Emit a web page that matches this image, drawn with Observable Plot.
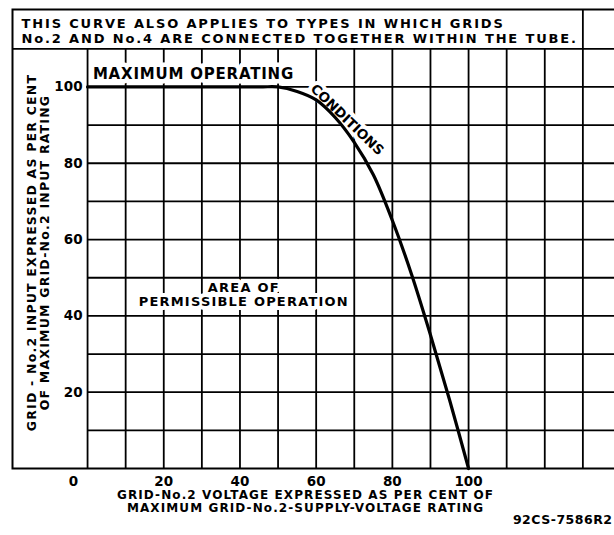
<!DOCTYPE html>
<html><head><meta charset="utf-8">
<script src="https://cdn.jsdelivr.net/npm/d3@7"></script>
<script src="https://cdn.jsdelivr.net/npm/@observablehq/plot@0.6"></script>
<style>
html,body{margin:0;padding:0;background:#fff;}
</style></head>
<body><div id="chart"></div>
<script>
// ---- data ----
const voltage = [0, 45, 50, 55, 60, 65, 70, 75, 80, 85, 90, 95, 100];
const input   = [100, 100, 100, 98.8, 96.6, 92, 85.5, 77, 65, 51, 35, 18, 0];
const xGrid = [0, 10, 20, 30, 40, 50, 60, 70, 80, 90, 100, 110, 120, 130];
const yGrid = [10, 20, 30, 40, 50, 60, 70, 80, 90, 100, 110];
const xTicks = [0, 20, 40, 60, 80, 100];
const yTicks = [20, 40, 60, 80, 100];
const titleLines = ["THIS CURVE ALSO APPLIES TO TYPES IN WHICH GRIDS", "No.2 AND No.4 ARE CONNECTED TOGETHER WITHIN THE TUBE."];
const yTitleLines = ["GRID - No.2 INPUT EXPRESSED AS PER CENT", "OF MAXIMUM GRID-No.2 INPUT RATING"];
const xTitleLines = ["GRID-No.2 VOLTAGE EXPRESSED AS PER CENT OF", "MAXIMUM GRID-No.2-SUPPLY-VOLTAGE RATING"];
const figureCode = "92CS-7586R2";
const limitLabel = ["MAXIMUM OPERATING", "CONDITIONS"];
const areaLabel = ["AREA OF", "PERMISSIBLE OPERATION"];

// ---- layout constants ----
const X_MIN = -19.7, X_MAX = 138.3, Y_MAX = 120.3;
const INK = "#000";
const GRID_W = 1.8;

const curve = voltage.map((v, i) => ({v, p: input[i]}));

const plot = Plot.plot({
  width: 614, height: 535,
  marginLeft: 12, marginRight: 0, marginTop: 9, marginBottom: 67,
  x: {domain: [X_MIN, X_MAX], axis: null},
  y: {domain: [0, Y_MAX], axis: null},
  style: {fontFamily: "DejaVu Sans", color: INK, background: "#fff"},
  marks: [
    Plot.ruleY(yGrid.filter(d => d < 110), {y: d => d, x1: 0, x2: X_MAX, stroke: INK, strokeWidth: GRID_W}),
    Plot.ruleY(yGrid.filter(d => d === 110), {y: d => d, x1: X_MIN, x2: X_MAX, stroke: INK, strokeWidth: GRID_W}),
    Plot.ruleX(xGrid.filter(d => d < 130), {x: d => d, y1: 0, y2: 110, stroke: INK, strokeWidth: GRID_W}),
    Plot.ruleX(xGrid.filter(d => d === 130), {x: d => d, y1: 0, y2: Y_MAX, stroke: INK, strokeWidth: GRID_W}),
    Plot.frame({stroke: INK, strokeWidth: 2, insetRight: -4}),
    // title inside the top box
    Plot.text([titleLines.join("\n")], {frameAnchor: "top-left", dx: 9, dy: 21.5, textAnchor: "start", lineAnchor: "middle",
      fontSize: 13, lineHeight: 1.15, fontWeight: "bold", fill: INK, ariaDescription: "title"}),
    // labels on the chart, with white halo that breaks the grid
    Plot.text([limitLabel[0]], {x: 27.8, y: 103.4, fontSize: 15, fontWeight: "bold", fill: INK, stroke: "#fff", strokeWidth: 9, ariaDescription: "maxop"}),
    Plot.text([limitLabel[1]], {x: 68.1, y: 91.4, rotate: 44, fontSize: 13.5, fontWeight: "bold", fill: INK, stroke: "#fff", strokeWidth: 8, ariaDescription: "cond"}),
    Plot.text([areaLabel.join("\n")], {x: 41, y: 45.6, fontSize: 13, lineHeight: 1.12, fontWeight: "bold", fill: INK, stroke: "#fff", strokeWidth: 8, ariaDescription: "area"}),
    // the rating curve
    Plot.line(curve, {x: "v", y: "p", curve: "catmull-rom", stroke: INK, strokeWidth: 3.2}),
    // y tick labels
    Plot.text(yTicks, {x: 0, y: d => d, text: d => String(d), dx: -5, textAnchor: "end", fontSize: 13.5, fontWeight: "bold", fill: INK}),
    // x tick labels
    Plot.text(xTicks.filter(d => d > 0), {x: d => d, y: 0, text: d => String(d), dy: 13, fontSize: 13.5, fontWeight: "bold", fill: INK}),
    Plot.text(xTicks.filter(d => d === 0), {x: d => d, y: 0, text: d => String(d), dy: 13, dx: -14, fontSize: 13.5, fontWeight: "bold", fill: INK}),
    // axis titles
    Plot.text([yTitleLines.join("\n")], {frameAnchor: "left", dx: 25.5, dy: 13.5, rotate: -90, textAnchor: "middle", lineAnchor: "middle",
      lineHeight: 1.1, fontSize: 12.5, fontWeight: "bold", fill: INK, ariaDescription: "ytitle"}),
    Plot.text([xTitleLines.join("\n")], {frameAnchor: "bottom", dx: -8, dy: 33, textAnchor: "middle", lineAnchor: "middle",
      lineHeight: 1.08, fontSize: 12, fontWeight: "bold", fill: INK, ariaDescription: "xtitle"}),
    Plot.text([figureCode], {frameAnchor: "bottom-right", dx: -2, dy: 51, textAnchor: "end", lineAnchor: "middle", fontSize: 12.5, fontWeight: "bold", fill: INK, ariaDescription: "code"})
  ]
});

const sel = d3.select(plot);
const spacing = {title: "1.85px", maxop: "0.8px", area: "1.2px", ytitle: "1.2px", xtitle: "1.1px", code: "0.5px"};
for (const [k, v] of Object.entries(spacing)) sel.selectAll(`g[aria-description="${k}"] text`).style("letter-spacing", v);

document.getElementById("chart").append(plot);
</script>
</body></html>
